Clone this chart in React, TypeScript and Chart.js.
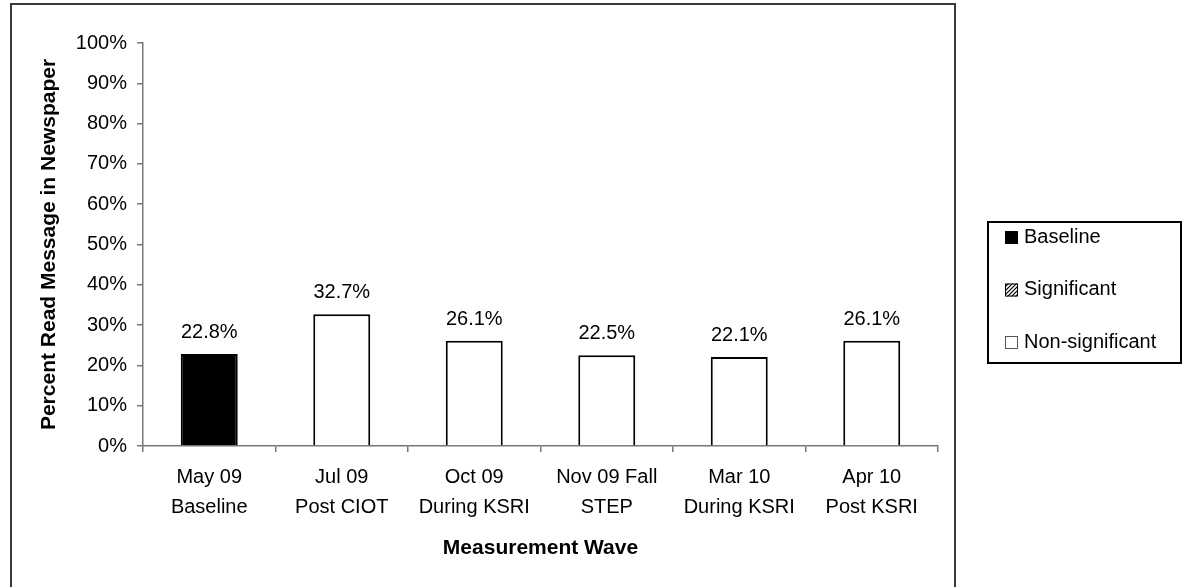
import React, { useEffect, useRef } from 'react';
import { Chart, registerables } from 'chart.js';

Chart.register(...registerables);

const categories: string[][] = [
  ['May 09', 'Baseline'],
  ['Jul 09', 'Post CIOT'],
  ['Oct 09', 'During KSRI'],
  ['Nov 09 Fall', 'STEP'],
  ['Mar 10', 'During KSRI'],
  ['Apr 10', 'Post KSRI'],
];
const values: number[] = [22.8, 32.7, 26.1, 22.5, 22.1, 26.1];
const barStatus: string[] = ['Baseline', 'Non-significant', 'Non-significant', 'Non-significant', 'Non-significant', 'Non-significant'];
const legendLabels: string[] = ['Baseline', 'Significant', 'Non-significant'];
const yTitle = 'Percent Read Message in Newspaper';
const xTitle = 'Measurement Wave';

const FONT = "'Liberation Sans', Arial, sans-serif";
const AXIS = '#777777';

function makeHatch(): CanvasPattern | string {
  const c = document.createElement('canvas');
  c.width = 4;
  c.height = 4;
  const g = c.getContext('2d');
  if (!g) return '#000';
  g.fillStyle = '#fff';
  g.fillRect(0, 0, 4, 4);
  g.strokeStyle = '#000';
  g.lineWidth = 1.2;
  g.beginPath();
  g.moveTo(0, 4);
  g.lineTo(4, 0);
  g.moveTo(-1, 1);
  g.lineTo(1, -1);
  g.moveTo(3, 5);
  g.lineTo(5, 3);
  g.stroke();
  const p = g.createPattern(c, 'repeat');
  return p || '#000';
}

export default function App() {
  const ref = useRef<HTMLCanvasElement | null>(null);

  useEffect(() => {
    const canvas = ref.current;
    if (!canvas) return;
    const hatch = makeHatch();
    const fillFor = (s: string) => (s === 'Baseline' ? '#000000' : s === 'Significant' ? hatch : '#ffffff');

    const bgPlugin = {
      id: 'bg',
      beforeDraw(chart: any) {
        const c = chart.ctx;
        c.save();
        c.fillStyle = '#ffffff';
        c.fillRect(0, 0, chart.width, chart.height);
        c.restore();
      },
    };

    const framePlugin = {
      id: 'frame',
      afterDraw(chart: any) {
        const c = chart.ctx;
        c.save();
        c.strokeStyle = '#3a3a3a';
        c.lineWidth = 2;
        c.strokeRect(11, 4, 944, 620);
        c.restore();
      },
    };

    const valueLabels = {
      id: 'valueLabels',
      afterDatasetsDraw(chart: any) {
        const c = chart.ctx;
        const meta = chart.getDatasetMeta(0);
        c.save();
        c.font = `20px ${FONT}`;
        c.fillStyle = '#000';
        c.textAlign = 'center';
        c.textBaseline = 'alphabetic';
        meta.data.forEach((bar: any, i: number) => {
          c.fillText(values[i].toFixed(1) + '%', bar.x, bar.y - 16);
        });
        c.restore();
      },
    };

    const legendPlugin = {
      id: 'customLegend',
      afterDraw(chart: any) {
        const c = chart.ctx;
        c.save();
        c.strokeStyle = '#000';
        c.lineWidth = 2;
        c.strokeRect(988, 222, 193, 141);
        c.font = `20px ${FONT}`;
        c.textBaseline = 'middle';
        c.textAlign = 'left';
        legendLabels.forEach((lab, i) => {
          const cy = 237 + i * 52.5;
          c.fillStyle = fillFor(lab) as any;
          c.fillRect(1005, cy - 6, 13, 13);
          c.strokeStyle = lab === 'Non-significant' ? '#555' : '#000';
          c.lineWidth = 1;
          c.strokeRect(1005.5, cy - 5.5, 12, 12);
          c.fillStyle = '#000';
          c.fillText(lab, 1024, cy);
        });
        c.restore();
      },
    };

    const chart = new Chart(canvas, {
      type: 'bar',
      data: {
        labels: categories,
        datasets: [
          {
            label: 'Percent',
            data: values,
            backgroundColor: barStatus.map(fillFor) as any,
            borderColor: '#000000',
            borderWidth: 2,
            barPercentage: 0.43,
            categoryPercentage: 1,
          },
        ],
      },
      options: {
        responsive: false,
        animation: false,
        devicePixelRatio: 1,
        layout: { padding: { left: 10, top: 43, right: 248, bottom: 0 } },
        plugins: {
          legend: { display: false },
          tooltip: { enabled: false },
        },
        scales: {
          x: {
            offset: true,
            grid: { display: true, drawOnChartArea: false, drawTicks: true, tickLength: 6, color: AXIS, lineWidth: 1.5, offset: true },
            border: { display: true, color: AXIS, width: 1.5 },
            ticks: {
              color: '#000',
              font: { family: FONT, size: 20, lineHeight: 1.5 },
              padding: 10,
              maxRotation: 0,
              autoSkip: false,
            },
            title: {
              display: true,
              text: xTitle,
              color: '#000',
              font: { family: FONT, size: 21, weight: 'bold' },
              padding: { top: 0, bottom: 26 },
            },
            afterFit(scale: any) {
              scale.height = 141;
            },
          },
          y: {
            min: 0,
            max: 100,
            grid: { display: true, drawOnChartArea: false, drawTicks: true, tickLength: 6, color: AXIS, lineWidth: 1.5 },
            border: { display: true, color: AXIS, width: 1.5 },
            ticks: {
              stepSize: 10,
              color: '#000',
              font: { family: FONT, size: 20 },
              padding: 10,
              callback: (v: any) => v + '%',
            },
            title: {
              display: true,
              text: yTitle,
              color: '#000',
              font: { family: FONT, size: 21, weight: 'bold' },
              padding: { top: 27, bottom: 0 },
            },
            afterFit(scale: any) {
              scale.width = 133;
            },
          },
        },
      },
      plugins: [bgPlugin, valueLabels, framePlugin, legendPlugin],
    });

    return () => chart.destroy();
  }, []);

  return (
    <div style={{ position: 'fixed', left: 0, top: 0, width: 1186, height: 587, background: '#fff' }}>
      <canvas ref={ref} width={1186} height={587} style={{ display: 'block', width: 1186, height: 587 }} />
    </div>
  );
}
